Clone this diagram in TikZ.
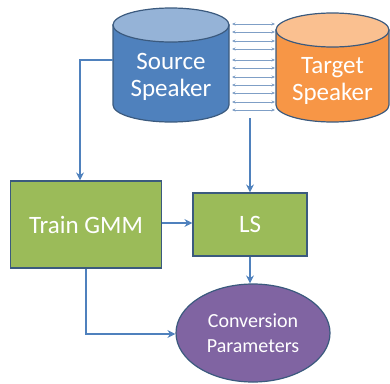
\documentclass[tikz,border=0pt]{standalone}
\usepackage{fontspec}
\setmainfont{Carlito}
\usetikzlibrary{arrows.meta,shapes.geometric}
\definecolor{edge}{HTML}{3B5A7E}
\definecolor{srcbody}{HTML}{4F81BD}
\definecolor{srctop}{HTML}{95B3D7}
\definecolor{tgtbody}{HTML}{F79646}
\definecolor{tgttop}{HTML}{FAC090}
\definecolor{boxgreen}{HTML}{9BBB59}
\definecolor{purp}{HTML}{8064A2}
\definecolor{arr}{HTML}{4F81BD}
\definecolor{thin}{HTML}{7F9FC6}
\tikzset{
  flow/.style={draw=arr, line width=1.6pt, -{Stealth[length=8pt,width=8pt]}},
  pair/.style={draw=thin, line width=0.6pt, {Stealth[length=3.5pt,width=3pt]}-{Stealth[length=3.5pt,width=3pt]}},
  gbox/.style={draw=edge, line width=1.2pt, fill=boxgreen, text=white, font=\fontsize{25}{28}\selectfont},
  cyltext/.style={text=white, align=center, font=\fontsize{25}{27}\selectfont},
}
\begin{document}
\begin{tikzpicture}[x=1pt,y=-1pt]
\useasboundingbox (0,0) rectangle (390,383);
% source cylinder
\draw[edge, line width=1.2pt, fill=srcbody] (113,25) -- (113,105) arc[start angle=180,end angle=0,x radius=58,y radius=17] -- (229,25) -- cycle;
\draw[edge, line width=1.2pt, fill=srctop] (171,25) ellipse[x radius=58, y radius=17];
% target cylinder
\draw[edge, line width=1.2pt, fill=tgtbody] (276,30) -- (276,105) arc[start angle=180,end angle=0,x radius=56.5,y radius=17] -- (389,30) -- cycle;
\draw[edge, line width=1.2pt, fill=tgttop] (332.5,30) ellipse[x radius=56.5, y radius=17];
\node[cyltext] (src) at (171,77) {Source\\Speaker};
\node[cyltext] (tgt) at (332.5,81) {Target\\Speaker};
% pairing lines
\foreach \i/\y in {a/24,b/32,c/41,d/49,e/60,f/68,g/77,h/85,i/93,j/102,k/110}{
  \coordinate (l\i) at (232,\y);
  \coordinate (r\i) at (275,\y);
  \draw[pair] (l\i) -- (r\i);
}
\coordinate (srcleft) at (113,60);
\coordinate (mid) at (250,118);
% boxes
\node[gbox, minimum width=151pt, minimum height=87pt] (gmm) at (86,224.5) {Train GMM};
\node[gbox, minimum width=114pt, minimum height=63pt] (ls) at (250,224.5) {LS};
\node[ellipse, draw=edge, line width=1.2pt, fill=purp, text=white, align=center,
      minimum width=154pt, minimum height=98pt, inner sep=0pt,
      font=\fontsize{20}{25}\selectfont] (cp) at (253,333) {Conversion\\Parameters};
% connectors
\draw[flow] (srcleft) -- (80,60) -- (gmm.north -| 80,0);
\draw[flow] (mid) -- (ls.north);
\draw[flow] (gmm.east |- 0,223) -- (ls.west |- 0,223);
\draw[flow] (ls.south) -- (cp.north -| ls.south);
\draw[flow] (gmm.south -| 86,0) -- (86,334) -- (cp.west |- 0,334);
\end{tikzpicture}
\end{document}
